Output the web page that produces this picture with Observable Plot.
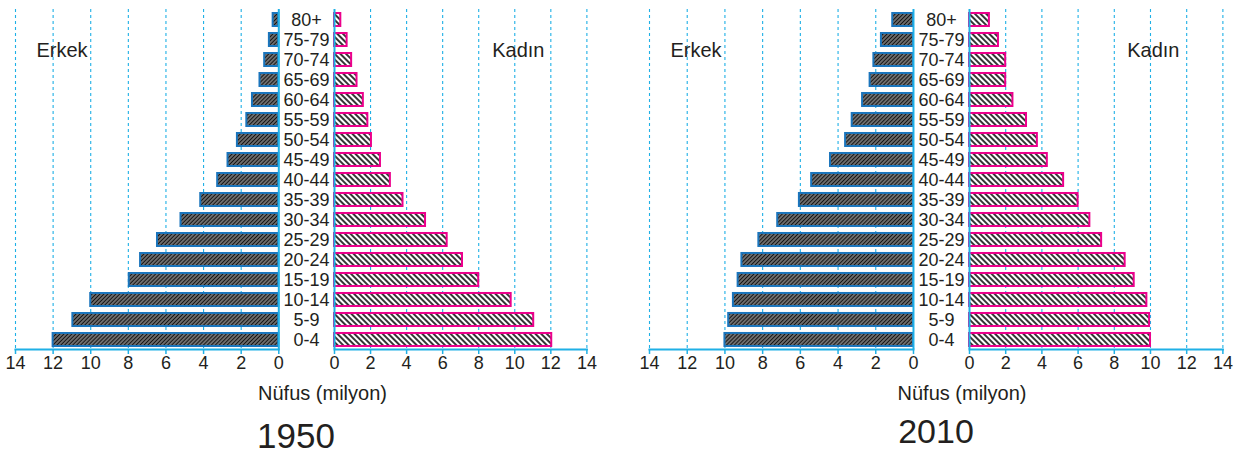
<!DOCTYPE html>
<html>
<head>
<meta charset="utf-8">
<script src="https://cdn.jsdelivr.net/npm/d3@7"></script>
<script src="https://cdn.jsdelivr.net/npm/@observablehq/plot@0.6"></script>
<style>
  body { margin: 0; background: #fff; font-family: "Liberation Sans", Arial, sans-serif; color: #231f20; }
  #wrap { position: relative; width: 1245px; height: 456px; overflow: hidden; }
  .abs { position: absolute; top: 0; }
  .cap { position: absolute; text-align: center; line-height: 1; white-space: nowrap; color: #231f20; }
</style>
</head>
<body>
<svg width="0" height="0" style="position:absolute">
  <defs>
    <pattern id="hatchM" patternUnits="userSpaceOnUse" width="2.8" height="2.8" patternTransform="rotate(45)">
      <rect width="2.8" height="2.8" fill="#cccccc"></rect>
      <line x1="1.4" y1="0" x2="1.4" y2="2.8" stroke="#151515" stroke-width="1.9"></line>
    </pattern>
    <pattern id="hatchF" patternUnits="userSpaceOnUse" width="4" height="4" patternTransform="rotate(-45)">
      <rect width="4" height="4" fill="#ffffff"></rect>
      <line x1="2" y1="0" x2="2" y2="4" stroke="#111111" stroke-width="1.7"></line>
    </pattern>
  </defs>
</svg>
<div id="wrap"></div>
<script>
// ---- data ----
const ages = ["80+","75-79","70-74","65-69","60-64","55-59","50-54","45-49","40-44","35-39","30-34","25-29","20-24","15-19","10-14","5-9","0-4"];
const male1950   = [0.3,0.5,0.75,1.0,1.4,1.7,2.2,2.7,3.25,4.15,5.2,6.45,7.35,7.95,10.0,10.95,12.0];
const female1950 = [0.35,0.7,0.95,1.25,1.6,1.85,2.05,2.55,3.1,3.8,5.05,6.25,7.1,8.0,9.8,11.05,12.05];
const male2010   = [1.1,1.7,2.1,2.3,2.7,3.25,3.6,4.4,5.4,6.05,7.2,8.2,9.1,9.3,9.55,9.8,10.0];
const female2010 = [1.1,1.6,2.0,2.0,2.4,3.15,3.75,4.3,5.2,6.0,6.65,7.3,8.6,9.1,9.8,9.95,10.0];
const xTicks = [0,2,4,6,8,10,12,14];
const sideLabels = ["Erkek","Kadın"];
const years = ["1950","2010"];
const axisTitle = "Nüfus (milyon)";

const CYAN = "#1fb0e6";
const MALE_BORDER = "#1b75bc";
const FEMALE_BORDER = "#ec008c";
const TEXT = "#231f20";
const FONT = "Liberation Sans, Arial, sans-serif";

const wrap = document.getElementById("wrap");

function side({values, male, left, marginLeft, frameW, label}) {
  const data = ages.map((a, i) => ({age: a, v: values[i]}));
  const width = marginLeft + frameW + (male ? 11.7 : 13);
  const marks = [
    Plot.ruleX(xTicks.filter(d => d > 0), {stroke: CYAN, strokeWidth: 1.1, strokeDasharray: "3,3"}),
    Plot.barX(data, {x: "v", y: "age", fill: male ? "url(#hatchM)" : "url(#hatchF)", stroke: male ? MALE_BORDER : FEMALE_BORDER, strokeWidth: 2}),
    Plot.ruleX([0], {stroke: CYAN, strokeWidth: 2}),
    Plot.frame({anchor: "bottom", stroke: CYAN, strokeWidth: 2}),
    Plot.axisX({ticks: xTicks, tickSize: 5, tickPadding: 2, stroke: CYAN, strokeWidth: 1.5, fill: TEXT, fontSize: 18, label: null, tickFormat: d => String(d)}),
    Plot.text([label], {frameAnchor: "top-left", dx: male ? 21 : 157.7, dy: 41, textAnchor: "start", lineAnchor: "middle", fontSize: 20, fill: TEXT})
  ];
  if (!male) marks.push(Plot.axisY({anchor: "left", tickSize: 0, tickPadding: 0, textAnchor: "middle", dx: -28, fontSize: 18, fill: TEXT, label: null}));
  const p = Plot.plot({
    width, height: 380,
    marginLeft, marginRight: width - marginLeft - frameW, marginTop: 9, marginBottom: 31,
    x: {domain: [0, 14], reverse: male},
    y: male ? {domain: ages, paddingInner: 0.35, paddingOuter: 0.175, axis: null}
            : {domain: ages, paddingInner: 0.35, paddingOuter: 0.175},
    style: {fontFamily: FONT, background: "transparent", overflow: "visible", maxWidth: "none"},
    marks
  });
  const d = document.createElement("div");
  d.className = "abs";
  d.style.left = left + "px";
  d.appendChild(p);
  wrap.appendChild(d);
}

// 1950
side({values: male1950, male: true, left: 0, marginLeft: 15, frameW: 263.3, label: sideLabels[0]});
side({values: female1950, male: false, left: 278.3, marginLeft: 56, frameW: 252.4, label: sideLabels[1]});
// 2010
side({values: male2010, male: true, left: 634.3, marginLeft: 15, frameW: 264, label: sideLabels[0]});
side({values: female2010, male: false, left: 913.3, marginLeft: 56, frameW: 253.4, label: sideLabels[1]});

function caption(text, cx, baseline, size) {
  const d = document.createElement("div");
  d.className = "cap";
  d.textContent = text;
  d.style.fontSize = size + "px";
  d.style.left = (cx - 150) + "px";
  d.style.width = "300px";
  d.style.top = (baseline - 0.8465 * size) + "px";
  wrap.appendChild(d);
}
caption(axisTitle, 322.5, 400, 20);
caption(years[0], 296, 448, 35);
caption(axisTitle, 962, 400, 20);
caption(years[1], 936, 443, 34);
</script>
</body>
</html>
